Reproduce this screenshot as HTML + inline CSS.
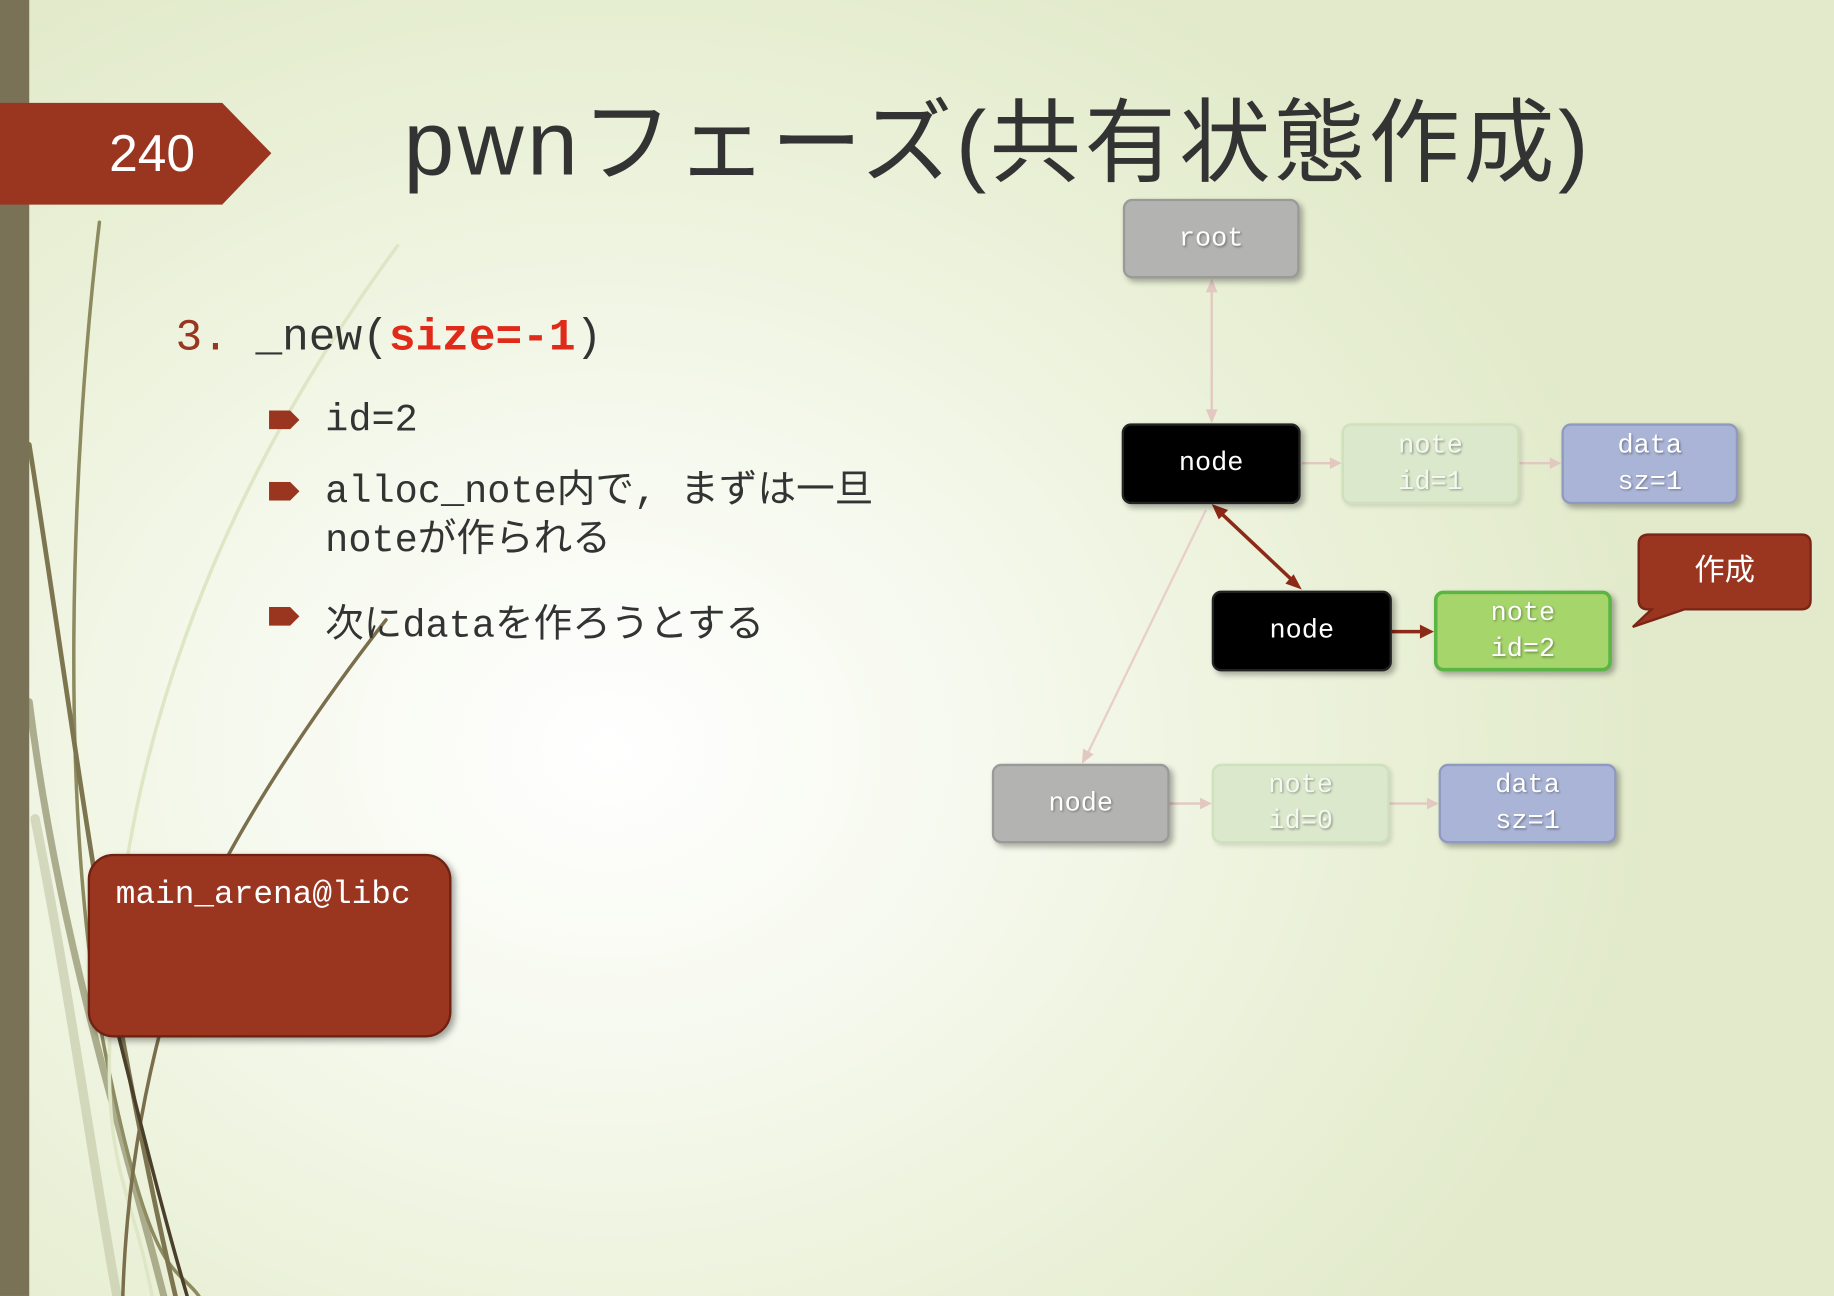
<!DOCTYPE html>
<html><head><meta charset="utf-8">
<style>
html,body{margin:0;padding:0;width:1834px;height:1296px;overflow:hidden;background:#e8eed6}
#w{position:absolute;left:0;top:0;width:1568px;height:1108px;transform:scale(1.16964);transform-origin:0 0;
background:radial-gradient(ellipse 900px 750px at 520px 640px,#ffffff 0%,#f6f9ee 35%,#e9f0d6 75%,#e2eacb 100%);overflow:hidden;
font-family:"Liberation Sans","Noto Sans CJK JP",sans-serif}
.abs{position:absolute}
.mono{font-family:"Liberation Mono","Noto Sans CJK JP",monospace}
.box{position:absolute;border-radius:8px;box-sizing:border-box;color:#fff;font-family:"Liberation Mono",monospace;font-size:23px;
display:flex;align-items:center;justify-content:center;text-align:center;line-height:31px;text-shadow:1px 1px 2px rgba(0,0,0,.35);
box-shadow:3px 3px 5px rgba(0,0,0,.3)}
.gray{background:#b3b3b1;border:2px solid #9a9a98}
.blk{background:#000;border:2px solid #222;text-shadow:none}
.pg{background:#dbe8cc;border:2px solid #cfe0bd;color:#f4f8ee;box-shadow:2px 2px 4px rgba(0,0,0,.12)}
.lav{background:#aab4d6;border:2px solid #8f9ac0}
.grn{background:#a6d56b;border:3px solid #5bb544}
.bul{position:absolute;left:230px;width:26px;height:16px}
.t{position:absolute;left:278px;font-size:33px;color:#333;font-family:"Liberation Mono","Noto Sans CJK JP",monospace;white-space:nowrap}
</style></head><body><div id="w">
<svg class="abs" style="left:0;top:0" width="1568" height="1108">
<g fill="none" stroke-linecap="round">
<path d="M85 190 C60 400 50 700 90 900 S150 1080 170 1108" stroke="#8c8a5e" stroke-width="3"/>
<path d="M25 380 C60 600 90 850 150 1108" stroke="#7d7550" stroke-width="4"/>
<path d="M25 600 C50 800 100 950 140 1108" stroke="#8e8f6a" stroke-width="6" opacity=".7"/>
<path d="M30 700 C60 850 80 1000 100 1108" stroke="#c8ccac" stroke-width="8" opacity=".7"/>
<path d="M340 210 C200 400 120 600 100 800 S110 1000 130 1108" stroke="#dfe6c6" stroke-width="3"/>
<path d="M330 530 C260 620 210 700 180 760 S110 950 105 1108" stroke="#7b6e4c" stroke-width="3"/>
<path d="M100 880 C120 960 140 1040 160 1108" stroke="#4a3f2a" stroke-width="3"/>
</g>
<g stroke-width="2" fill="none">
<line x1="1036" y1="242" x2="1036" y2="358" stroke="#e2c8c0"/>
<line x1="1113" y1="396" x2="1143" y2="396" stroke="#e2c8c0"/>
<line x1="1299" y1="396" x2="1331" y2="396" stroke="#e2c8c0"/>
<line x1="1031" y1="436" x2="928" y2="648" stroke="#e8cfc8"/>
<line x1="1000" y1="687" x2="1032" y2="687" stroke="#e2c8c0"/>
<line x1="1188" y1="687" x2="1226" y2="687" stroke="#e2c8c0"/>
<line x1="1040" y1="435" x2="1109" y2="500" stroke="#8c2a18" stroke-width="3"/>
<line x1="1190" y1="540" x2="1220" y2="540" stroke="#8c2a18" stroke-width="3"/>
</g>
<g fill="#e2c8c0">
<polygon points="1036,238 1031,250 1041,250"/><polygon points="1036,362 1031,350 1041,350"/>
<polygon points="1147,396 1137,391 1137,401"/><polygon points="1335,396 1325,391 1325,401"/>
<polygon points="925,653 926,640 935,645"/><polygon points="1036,687 1026,682 1026,692"/>
<polygon points="1230,687 1220,682 1220,692"/>
</g>
<g fill="#8c2a18">
<polygon points="1036,431 1050,436 1042,444"/><polygon points="1113,504 1099,499 1106,491"/>
<polygon points="1226,540 1214,534 1214,546"/>
</g>
<path d="M1410 457 H1540 Q1548 457 1548 465 V513 Q1548 521 1540 521 H1440 L1396 536 L1412 521 H1409 Q1401 521 1401 513 V465 Q1401 457 1410 457Z" fill="#9a3520" stroke="#7a2515" stroke-width="2"/>
</svg>
<div class="abs" style="left:0;top:0;width:25px;height:1108px;background:#7a7256"></div>
<svg class="abs" style="left:0;top:0" width="240" height="180"><polygon points="0,88 190,88 232,131 190,175 0,175" fill="#9a3520"/></svg>
<div class="abs" style="left:60px;top:104px;width:140px;text-align:center;color:#fff;font-size:44px;line-height:56px">240</div>
<div class="abs" style="left:345px;top:72px;font-size:78px;color:#333;line-height:100px;white-space:nowrap;letter-spacing:3px">pwnフェーズ(共有状態作成)</div>

<div class="abs mono" style="left:150px;top:268px;font-size:38px;color:#333;white-space:nowrap"><span style="color:#9a3520">3.</span>&nbsp;_new(<b style="color:#e02a1a">size=-1</b>)</div>
<svg class="bul" style="top:351px" viewBox="0 0 26 16"><polygon points="0,0 18,0 26,8 18,16 0,16" fill="#9a3520"/></svg>
<div class="t" style="top:341px">id=2</div>
<svg class="bul" style="top:412px" viewBox="0 0 26 16"><polygon points="0,0 18,0 26,8 18,16 0,16" fill="#9a3520"/></svg>
<div class="t" style="top:400px;line-height:42px">alloc_note内で, まずは一旦<br>noteが作られる</div>
<svg class="bul" style="top:519px" viewBox="0 0 26 16"><polygon points="0,0 18,0 26,8 18,16 0,16" fill="#9a3520"/></svg>
<div class="t" style="top:506px">次にdataを作ろうとする</div>

<div class="abs mono" style="left:75px;top:730px;width:311px;height:157px;box-sizing:border-box;background:#9a3520;border:2px solid #6e2212;border-radius:22px;box-shadow:3px 3px 6px rgba(0,0,0,.35);color:#fff;font-size:28px;padding:18px 0 0 22px;white-space:nowrap">main_arena@libc</div>

<div class="box gray" style="left:960px;top:170px;width:151px;height:68px">root</div>
<div class="box blk" style="left:959px;top:362px;width:153px;height:69px">node</div>
<div class="box pg" style="left:1147px;top:362px;width:152px;height:69px">note<br>id=1</div>
<div class="box lav" style="left:1335px;top:362px;width:151px;height:69px">data<br>sz=1</div>
<div class="box blk" style="left:1036px;top:505px;width:154px;height:69px">node</div>
<div class="box grn" style="left:1226px;top:505px;width:152px;height:69px">note<br>id=2</div>
<div class="box gray" style="left:848px;top:653px;width:152px;height:68px">node</div>
<div class="box pg" style="left:1036px;top:653px;width:152px;height:68px">note<br>id=0</div>
<div class="box lav" style="left:1230px;top:653px;width:152px;height:68px">data<br>sz=1</div>
<div class="abs" style="left:1401px;top:468px;width:147px;text-align:center;color:#fff;font-size:26px;line-height:38px">作成</div>
</div></body></html>
